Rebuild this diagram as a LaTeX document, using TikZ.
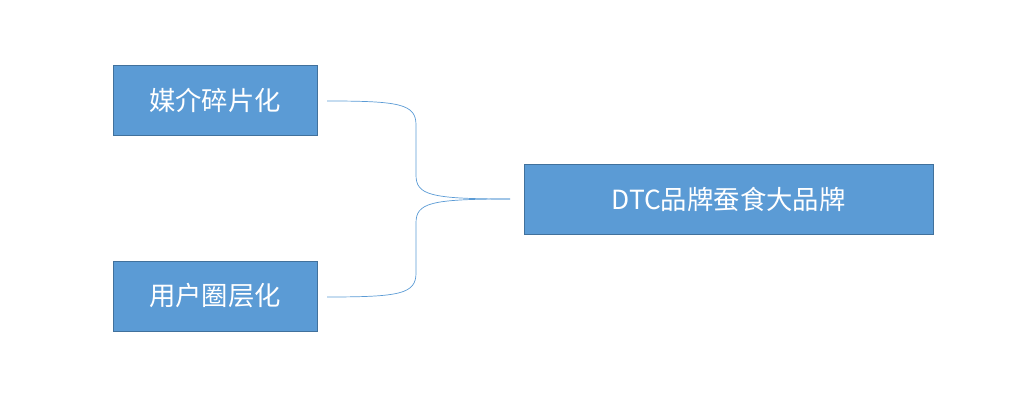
\documentclass[tikz,border=0pt]{standalone}
\usepackage{fontspec}
\setmainfont{Noto Sans CJK SC}
\usepackage{xcolor}
\definecolor{boxfill}{HTML}{5B9BD5}
\definecolor{boxline}{HTML}{41719C}

\begin{document}
\begin{tikzpicture}[x=0.02cm,y=-0.02cm]
\tikzset{blockbox/.style={rectangle, minimum height=1.4cm, text centered, draw=boxline, fill=boxfill, text=white, font=\fontsize{15}{18}\selectfont}}
\useasboundingbox (0,0) rectangle (1031,404);

\node (media) [blockbox, minimum width=4.08cm] at (215,100) {媒介碎片化};
\node (users) [blockbox, minimum width=4.08cm] at (215,296) {用户圈层化};
\node (brand) [blockbox, minimum width=8.18cm] at (728.5,199.5) {DTC品牌蚕食大品牌};

\coordinate (tip) at (510,199);
\coordinate (topend) at (327,101);
\coordinate (botend) at (327,297);

\draw[boxfill, thin] (topend) .. controls (400,101) and (416,104) .. (416,125) -- (416,175)
  .. controls (416,195) and (430,199) .. (tip);
\draw[boxfill, thin] (botend) .. controls (400,297) and (416,294) .. (416,273) -- (416,223)
  .. controls (416,203) and (430,199) .. (tip);

\end{tikzpicture}
\end{document}
